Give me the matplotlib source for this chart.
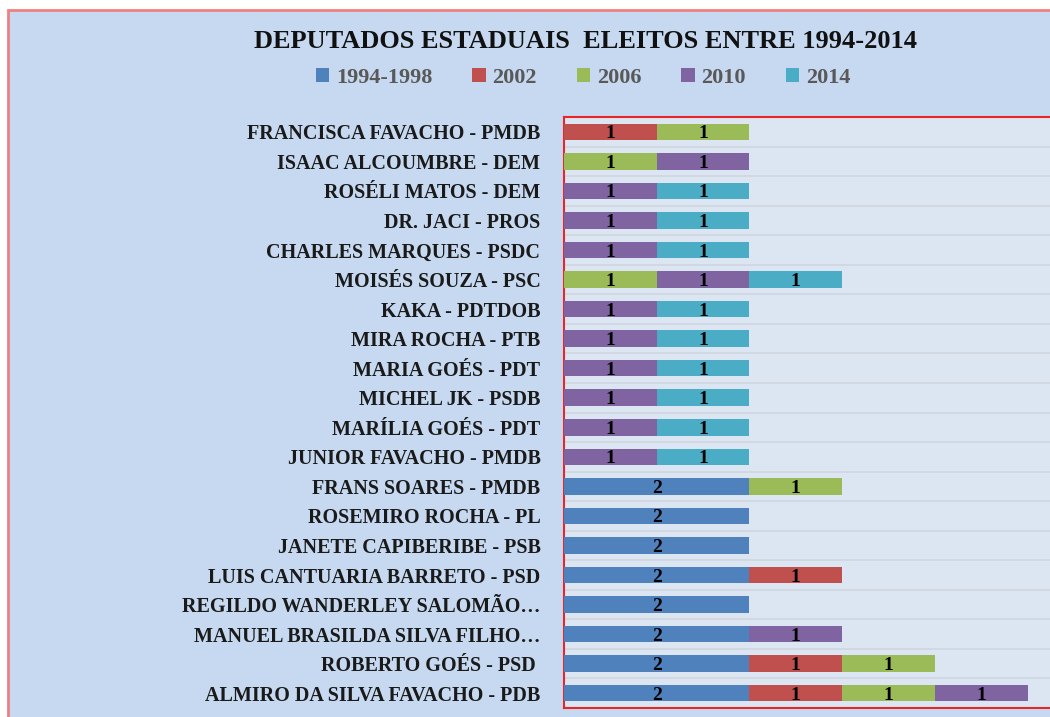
import matplotlib
matplotlib.use("Agg")
import matplotlib.pyplot as plt
import numpy as np
from matplotlib.patches import Rectangle

categories = [
    "FRANCISCA FAVACHO - PMDB",
    "ISAAC ALCOUMBRE - DEM",
    "ROSÉLI MATOS - DEM",
    "DR. JACI - PROS",
    "CHARLES MARQUES - PSDC",
    "MOISÉS SOUZA - PSC",
    "KAKA - PDTDOB",
    "MIRA ROCHA - PTB",
    "MARIA GOÉS - PDT",
    "MICHEL JK - PSDB",
    "MARÍLIA GOÉS - PDT",
    "JUNIOR FAVACHO - PMDB",
    "FRANS SOARES - PMDB",
    "ROSEMIRO ROCHA - PL",
    "JANETE CAPIBERIBE - PSB",
    "LUIS CANTUARIA BARRETO - PSD",
    "REGILDO WANDERLEY SALOMÃO…",
    "MANUEL BRASILDA SILVA FILHO…",
    "ROBERTO GOÉS - PSD ",
    "ALMIRO DA SILVA FAVACHO - PDB",
]
series_names = ["1994-1998", "2002", "2006", "2010", "2014"]
s1994 = [0, 0, 0, 0, 0, 0, 0, 0, 0, 0, 0, 0, 2, 2, 2, 2, 2, 2, 2, 2]
s2002 = [1, 0, 0, 0, 0, 0, 0, 0, 0, 0, 0, 0, 0, 0, 0, 1, 0, 0, 1, 1]
s2006 = [1, 1, 0, 0, 0, 1, 0, 0, 0, 0, 0, 0, 1, 0, 0, 0, 0, 0, 1, 1]
s2010 = [0, 1, 1, 1, 1, 1, 1, 1, 1, 1, 1, 1, 0, 0, 0, 0, 0, 1, 0, 1]
s2014 = [0, 0, 1, 1, 1, 1, 1, 1, 1, 1, 1, 1, 0, 0, 0, 0, 0, 0, 0, 0]
colors = ["#4f81bd", "#c0504d", "#9bbb59", "#8064a2", "#4bacc6"]

W, H = 1050, 717
fig = plt.figure(figsize=(W / 100, H / 100), dpi=100)
fig.patch.set_facecolor("white")

# outer chart area with red border
bg = Rectangle((8 / W, -0.05), 1.2, 1 - 10 / H + 0.05,
               transform=fig.transFigure, facecolor="#c6d9f0",
               edgecolor="#f08080", linewidth=2, zorder=-10)
fig.patches.append(bg)

left, right, top, bottom = 564, 1050, 117, 708
ax = fig.add_axes([left / W, 1 - bottom / H, (right - left) / W, (bottom - top) / H])
ax.set_zorder(1)
ax.set_facecolor("#dce6f2")

serif = "Liberation Serif"
y = np.arange(len(categories))
data = [s1994, s2002, s2006, s2010, s2014]
cum = np.zeros(len(categories))
for name, vals, c in zip(series_names, data, colors):
    vals = np.array(vals, dtype=float)
    ax.barh(y, vals, left=cum, height=0.56, color=c, label=name, zorder=3)
    for yi, (v, l) in enumerate(zip(vals, cum)):
        if v > 0:
            ax.text(l + v / 2, yi + 0.07, f"{int(v)}", ha="center", va="center",
                    fontsize=14, fontweight="bold", family=serif, color="black", zorder=4)
    cum += vals

ax.set_ylim(len(categories) - 0.5, -0.5)
ax.set_xlim(0, (right - left) / 92.7)
ax.set_yticks(y)
ax.set_yticklabels(categories, family=serif, fontweight="bold", fontsize=14.5, color="#1a1a1a")
ax.tick_params(axis="y", length=0, pad=17)
ax.set_xticks([])
for yy in np.arange(-0.5, len(categories), 1.0):
    ax.axhline(yy, color="#cfd6df", linewidth=1.2, zorder=1)
for s in ["top", "left", "bottom"]:
    ax.spines[s].set_color("#e8262a")
    ax.spines[s].set_linewidth(1.5)
ax.spines["right"].set_visible(False)

fig.text(585 / W, 1 - 41 / H, "DEPUTADOS ESTADUAIS  ELEITOS ENTRE 1994-2014",
         ha="center", va="center", family=serif, fontweight="bold", fontsize=19, color="#111111")

leg = fig.legend(*ax.get_legend_handles_labels(), loc="center", ncol=5,
                 bbox_to_anchor=(583 / W, 1 - 78 / H), frameon=False,
                 prop={"family": serif, "weight": "bold", "size": 16},
                 handlelength=0.6, handleheight=0.6, handletextpad=0.3, columnspacing=1.8)
for t in leg.get_texts():
    t.set_color("#595959")

fig.savefig("out.png", dpi=100, facecolor=fig.get_facecolor())
